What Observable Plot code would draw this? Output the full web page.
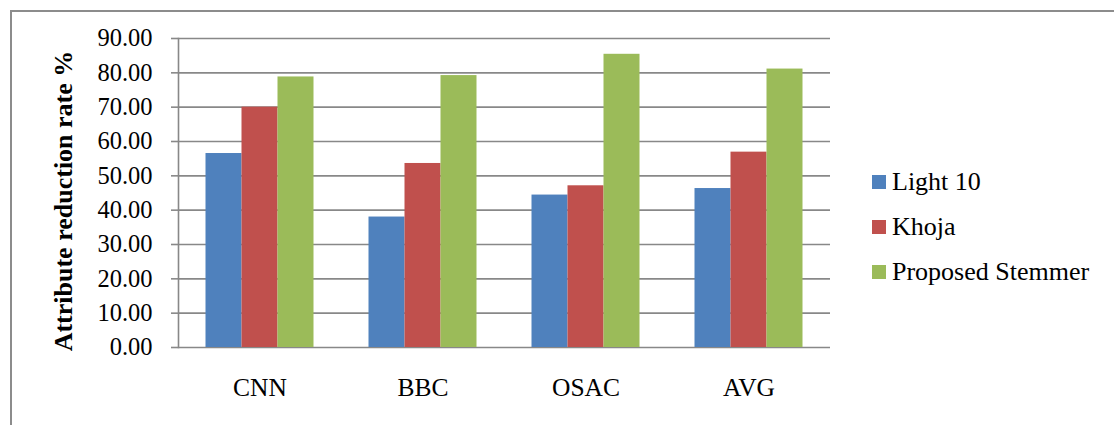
<!DOCTYPE html>
<html>
<head>
<meta charset="utf-8">
<script src="https://cdn.jsdelivr.net/npm/d3@7"></script>
<script src="https://cdn.jsdelivr.net/npm/@observablehq/plot@0.6"></script>
<style>
  html, body { margin: 0; padding: 0; background: #fff; overflow: hidden; }
  #wrap { position: relative; width: 1114px; height: 425px; font-family: "Liberation Serif", "Times New Roman", serif; }
  #border { position: absolute; left: 10px; top: 10px; width: 1120px; height: 430px; border-left: 2px solid #8c8c8c; border-top: 2px solid #8c8c8c; box-sizing: border-box; }
  #ylabel { position: absolute; left: 64px; top: 201px; transform: translate(-50%, -50%) rotate(-90deg); white-space: nowrap; font-family: "Liberation Serif", serif; font-weight: bold; font-size: 26px; color: #000; }
  #legend { position: absolute; left: 872px; top: 159px; font-family: "Liberation Serif", serif; font-size: 26px; color: #000; }
  #legend span { font-family: "Liberation Serif", serif; }
  .item { display: flex; align-items: center; height: 45px; }
  .sw { width: 14px; height: 14px; margin-right: 6px; }
  svg { position: absolute; left: 0; top: 0; }
</style>
</head>
<body>
<div id="wrap">
  <div id="border"></div>
  <div id="ylabel"></div>
  <div id="legend"></div>
</div>
<script>
const categories = ["CNN", "BBC", "OSAC", "AVG"];
const seriesNames = ["Light 10", "Khoja", "Proposed Stemmer"];
const light10 = [56.5, 38.0, 44.4, 46.3];
const khoja = [70.0, 53.6, 47.1, 56.9];
const proposed = [78.8, 79.2, 85.4, 81.1];
const yTicks = [0, 10, 20, 30, 40, 50, 60, 70, 80, 90];
const yLabel = "Attribute reduction rate %";
const colors = ["#4F81BD", "#C0504D", "#9BBB59"];

const seriesValues = [light10, khoja, proposed];
const data = categories.map((c, i) => ({cat: c, v0: light10[i], v1: khoja[i], v2: proposed[i]}));

const gray = "#888888";
const outer = 27.5, bw = 36;
const serif = "Liberation Serif, Times New Roman, serif";

const marks = [
  Plot.ruleY(yTicks, {stroke: gray, strokeWidth: 1.6}),
  Plot.axisY({ticks: yTicks, tickFormat: d => d.toFixed(2), tickSize: 7, tickPadding: 19, stroke: gray, strokeWidth: 1.6, label: null, fontSize: 24.5, fontFamily: serif, fill: "#000"}),
  Plot.axisX({tickSize: 0, tickPadding: 30, label: null, fontSize: 25.5, fontFamily: serif, fill: "#000"}),
  ...seriesValues.map((vals, i) => Plot.barY(data, {
    x: "cat", y: "v" + i, fill: colors[i],
    insetLeft: outer + i * bw, insetRight: outer + (2 - i) * bw
  })),
  Plot.frame({anchor: "left", stroke: gray, strokeWidth: 1.6})
];

const chart = Plot.plot({
  width: 1114, height: 425,
  marginLeft: 178, marginRight: 284, marginTop: 38, marginBottom: 78,
  style: {fontFamily: serif, fontSize: "24px", color: "#000", background: "transparent"},
  x: {domain: categories, padding: 0, label: null},
  y: {domain: [0, 90], label: null},
  marks
});
document.getElementById("wrap").appendChild(chart);

document.getElementById("ylabel").textContent = yLabel;
const legend = document.getElementById("legend");
seriesNames.forEach((n, i) => {
  const it = document.createElement("div");
  it.className = "item";
  const sw = document.createElement("div");
  sw.className = "sw";
  sw.style.background = colors[i];
  const t = document.createElement("span");
  t.textContent = n;
  it.appendChild(sw); it.appendChild(t);
  legend.appendChild(it);
});
</script>
</body>
</html>
